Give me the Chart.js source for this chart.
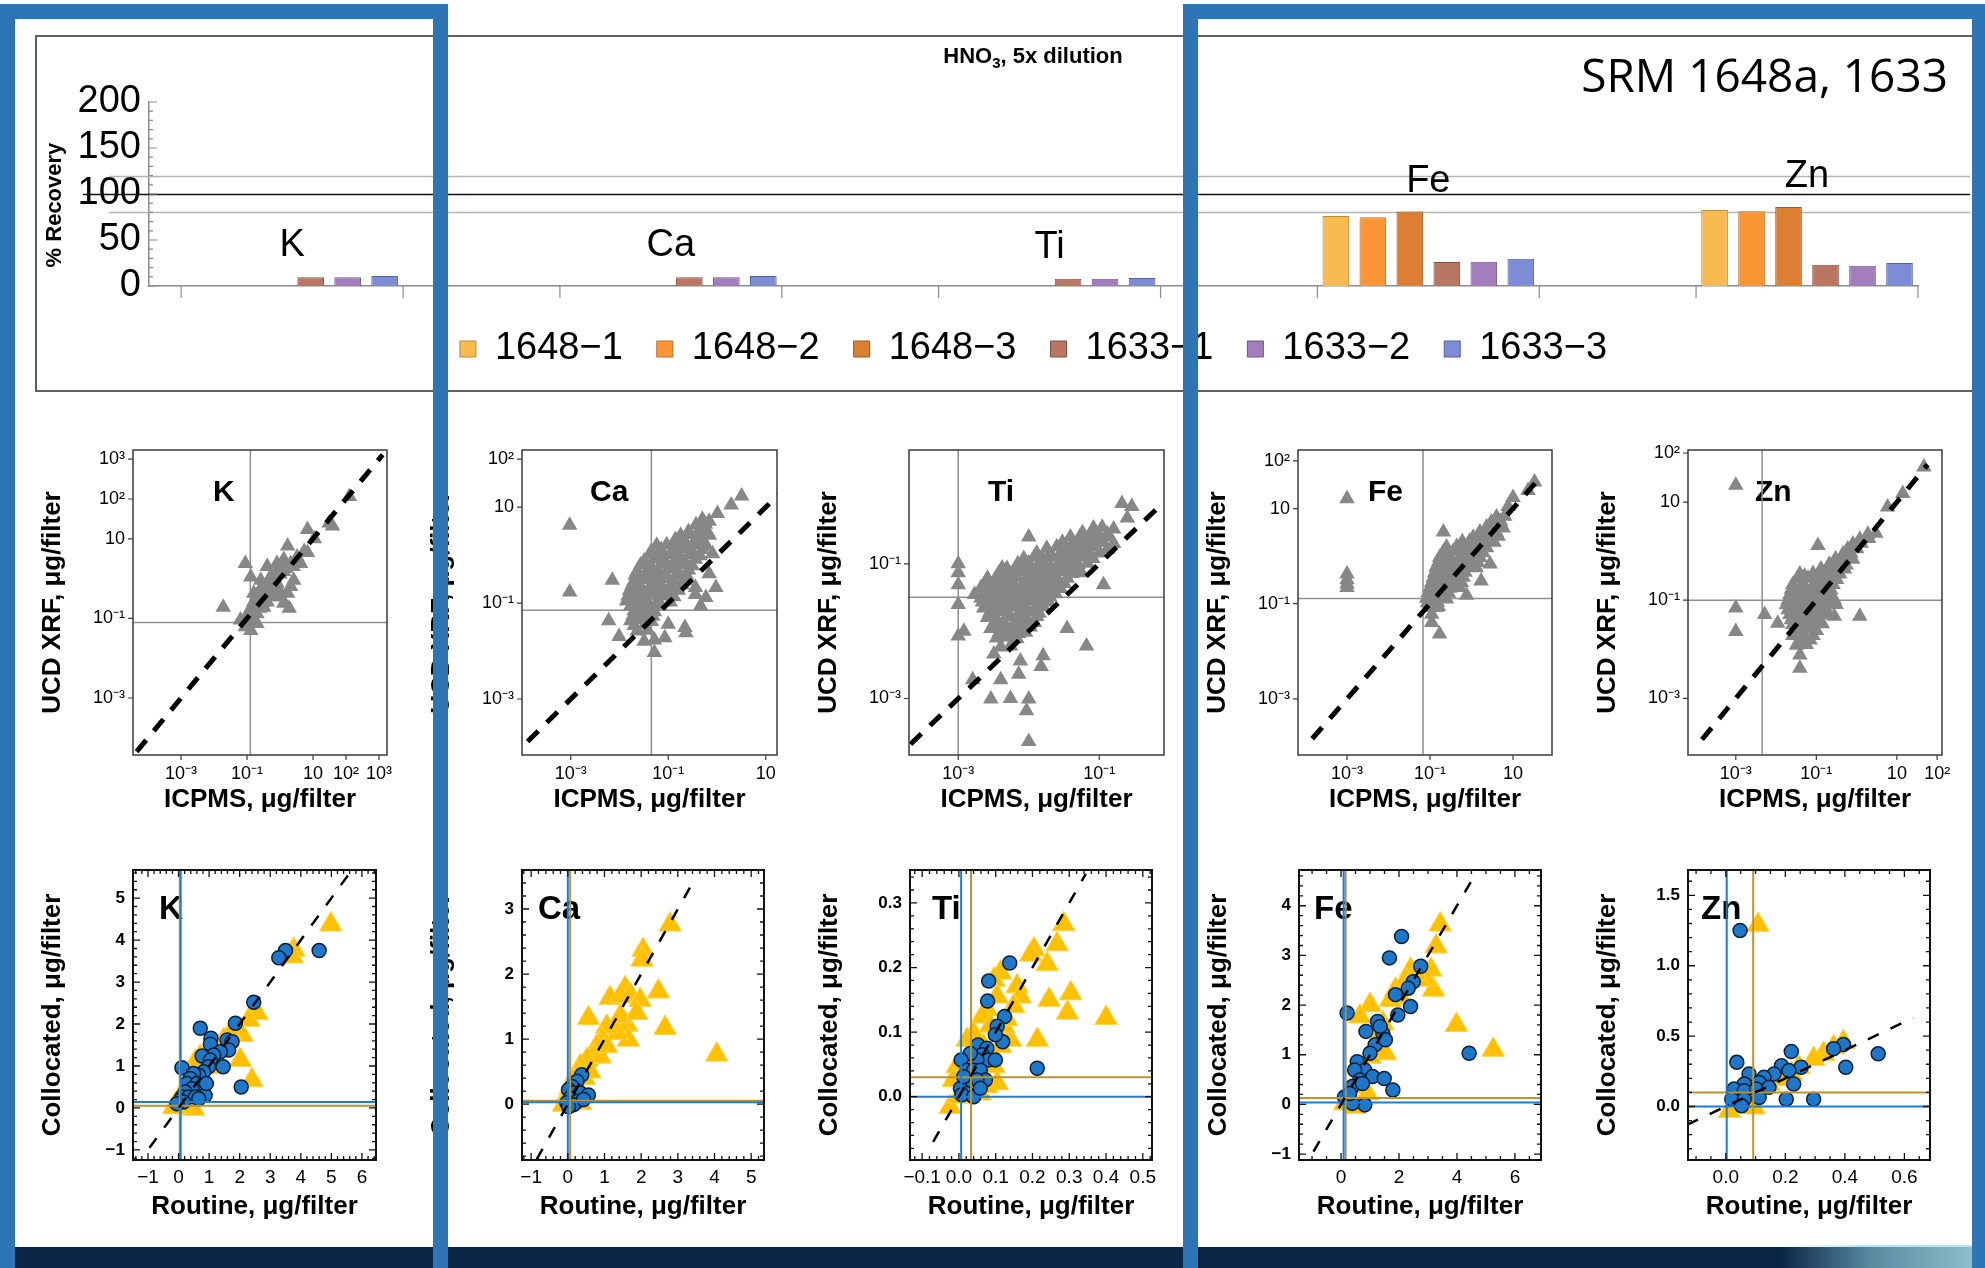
<!DOCTYPE html>
<html lang="en">
<head>
<meta charset="utf-8">
<title>SRM recovery and XRF comparisons</title>
<script src="https://cdn.jsdelivr.net/npm/chart.js@4.4.1/dist/chart.umd.min.js"></script>
<style>
  html, body { margin: 0; padding: 0; background: #fff; }
  #stage { position: relative; width: 1985px; height: 1268px; overflow: hidden; background: #fff; }
  #stage canvas { position: absolute; }
  #recoveryBox { position: absolute; left: 35px; top: 35px; width: 1960px; height: 353px;
    border-top: 2px solid #5f5f5f; border-left: 2px solid #5f5f5f; border-bottom: 2px solid #5f5f5f; }
  #acid { position: absolute; left: 1033px; top: 45px; transform: translateX(-50%); z-index: 3;
    font: bold 22px "Liberation Sans", Arial, sans-serif; line-height: 22px; white-space: nowrap; }
  #acid sub { font-size: 15px; line-height: 0; }
  #srm { position: absolute; right: 37px; top: 51px; z-index: 3;
    font: 46px "Open Sans", "Noto Sans", sans-serif; line-height: 46px; white-space: nowrap; }
  #footer { position: absolute; left: 0; top: 1247px; width: 1985px; height: 21px; background: #0b2545; z-index: 5; }
  #footerArt { position: absolute; left: 1780px; top: 1245px; width: 205px; height: 23px; z-index: 6;
    background: linear-gradient(90deg, rgba(120,195,215,0) 0%, rgba(140,208,222,0.6) 45%, rgba(170,224,234,0.85) 100%); }
  .band { position: absolute; background: #2e75b6; z-index: 10; }
</style>
</head>
<body>
<div id="stage">
  <div id="recoveryBox"></div>
  <div id="acid">HNO<sub>3</sub>, 5x dilution</div>
  <div id="srm">SRM 1648a, 1633</div>
  <div id="footer"></div>
  <div id="footerArt"></div>
  <div class="band" style="left:0;top:4px;width:15px;height:1264px"></div>
  <div class="band" style="left:0;top:4px;width:448px;height:15px"></div>
  <div class="band" style="left:433px;top:4px;width:15px;height:1264px"></div>
  <div class="band" style="left:1183px;top:4px;width:15px;height:1264px"></div>
  <div class="band" style="left:1183px;top:4px;width:802px;height:15px"></div>
  <div class="band" style="left:1972px;top:4px;width:13px;height:1264px"></div>
</div>
<script>
// ---- % recovery of the SRM digests ----
const elements = ['K', 'Ca', 'Ti', 'Fe', 'Zn'];
const runLabels = ['1648\u22121', '1648\u22122', '1648\u22123', '1633\u22121', '1633\u22122', '1633\u22123'];
const rec1648_1 = [null, null, null, 76, 82.6];
const rec1648_2 = [null, null, null, 74.6, 81.2];
const rec1648_3 = [null, null, null, 81, 85.9];
const rec1633_1 = [9.4, 9.4, 8.0, 26, 23.2];
const rec1633_2 = [9.4, 9.4, 8.0, 26.4, 22.1];
const rec1633_3 = [10.9, 10.9, 8.7, 29.7, 25];
const recoveryBands = [80, 100, 120];

// ---- UCD XRF vs ICPMS, ug/filter: [icpms, xrf] ----
const kLog = [[126,115],[31,25],[39,21],[6.8,17],[11,10],[1.7,6.6],[5.4,4.8],[3.3,3.5],[2.1,2.4],[1.3,1.5],
  [0.41,2.0],[0.089,2.4],[0.13,1.1],[0.26,0.91],[0.51,1.1],[0.81,0.76],[0.65,0.51],[0.41,0.43],[0.26,0.35],
  [0.16,0.26],[0.32,0.19],[0.2,0.13],[0.1,0.11],[0.063,0.091],[0.089,0.062],[0.13,0.05],[0.019,0.19],[1.7,0.43],
  [1.9,0.18],[1.3,0.24],[1.05,0.35],[2.1,0.63],[2.6,0.91],[4.2,2.4],[6.8,4.5],[0.81,1.35],[0.51,0.63],[0.26,0.56],
  [0.16,0.43],[0.81,2.4],[1.3,3.0],[0.41,0.26],[0.2,0.074],[0.16,0.14],
  [0.2,0.3],[0.3,0.25],[0.5,0.8],[0.7,1.2],[1.0,1.3],[1.5,1.8],[0.35,0.6],[0.12,0.16],[0.14,0.09],[0.25,0.18],
  [0.9,0.55],[2.5,2.0],[3.5,3.0],[0.6,0.35],[0.45,0.7],[0.18,0.2]];
const caLog = [[3.2,17],[1.95,11],[1.02,7.4],[0.00095,4.2],[0.00095,0.17],[0.0071,0.30],[0.006,0.043],[0.0098,0.020],
  [0.052,0.0093],[0.085,0.019],[0.22,0.031],[0.23,0.024],[0.1,0.036],[0.81,1.07],[0.69,0.41],[0.95,0.21],[0.59,0.13],
  [0.36,0.15],[0.46,0.087],[0.36,0.21],
  [0.50,5.6],[0.69,5.1],[0.26,3.1],[0.43,3.4],[0.59,3.2],[0.14,2.1],[0.22,1.9],[0.36,2.1],[0.54,1.9],
  [0.045,1.2],[0.072,1.3],[0.12,1.2],[0.19,1.35],[0.31,1.2],[0.50,1.3],
  [0.032,0.75],[0.052,0.82],[0.085,0.76],[0.14,0.80],[0.22,0.74],[0.36,0.82],
  [0.023,0.46],[0.038,0.50],[0.062,0.47],[0.1,0.51],[0.16,0.46],[0.26,0.49],
  [0.020,0.29],[0.030,0.31],[0.049,0.28],[0.079,0.32],[0.13,0.29],[0.22,0.30],
  [0.016,0.18],[0.023,0.19],[0.038,0.17],[0.062,0.19],[0.1,0.17],[0.16,0.185],
  [0.014,0.11],[0.023,0.115],[0.038,0.105],[0.062,0.115],[0.11,0.105],
  [0.020,0.069],[0.032,0.072],[0.052,0.066],[0.017,0.043],[0.028,0.045],[0.045,0.041],
  [0.023,0.026],[0.038,0.027],[0.032,0.016],[0.052,0.017],
  [0.37,4.3],[0.58,4.4],[0.18,2.6],[0.28,2.7],[0.45,2.5],[0.7,2.6],
  [0.058,1.6],[0.093,1.65],[0.15,1.55],[0.24,1.6],[0.39,1.65],[0.6,1.55],
  [0.041,1.0],[0.066,0.97],[0.11,1.03],[0.17,0.98],[0.28,1.02],[0.45,0.97],
  [0.027,0.62],[0.044,0.6],[0.072,0.64],[0.12,0.61],[0.19,0.63],[0.31,0.6],
  [0.021,0.38],[0.034,0.39],[0.055,0.37],[0.09,0.39],[0.15,0.38],[0.24,0.37],
  [0.018,0.235],[0.026,0.24],[0.043,0.23],[0.07,0.24],[0.11,0.23],[0.19,0.24],
  [0.015,0.14],[0.02,0.145],[0.03,0.135],[0.05,0.145],[0.08,0.14],[0.13,0.135],
  [0.017,0.088],[0.026,0.09],[0.041,0.085],[0.066,0.09],[0.019,0.055],[0.03,0.057],[0.048,0.053],[0.02,0.034],[0.033,0.035]];
const tiLog = [[0.21,0.79],[0.29,0.71],[0.25,0.48],[0.01,0.25],[0.001,0.10],[0.001,0.074],[0.001,0.049],[0.001,0.025],
  [0.001,0.0085],[0.115,0.049],[0.066,0.006],[0.035,0.011],[0.01,0.00023],[0.0029,0.00098],[0.0055,0.001],[0.01,0.00098],
  [0.0093,0.00066],[0.0016,0.0019],[0.004,0.0019],[0.0072,0.0023],[0.016,0.0043],[0.015,0.003],[0.0076,0.0036],
  [0.0032,0.0046],[0.0012,0.01],[0.0017,0.035],[0.0042,0.087],
  [0.083,0.34],[0.11,0.35],[0.16,0.33],[0.039,0.25],[0.054,0.26],[0.074,0.24],[0.10,0.26],[0.14,0.25],
  [0.018,0.17],[0.025,0.18],[0.035,0.165],[0.048,0.175],[0.066,0.17],[0.091,0.18],[0.13,0.165],
  [0.0085,0.12],[0.012,0.125],[0.016,0.115],[0.022,0.125],[0.031,0.12],[0.043,0.115],[0.059,0.125],[0.081,0.12],
  [0.0049,0.085],[0.0068,0.09],[0.0093,0.084],[0.013,0.089],[0.018,0.086],[0.025,0.09],[0.035,0.084],[0.048,0.088],
  [0.0026,0.061],[0.0035,0.064],[0.0049,0.06],[0.0068,0.063],[0.0093,0.061],[0.013,0.064],[0.018,0.06],[0.025,0.063],[0.035,0.061],
  [0.0021,0.044],[0.0029,0.046],[0.004,0.043],[0.0055,0.045],[0.0076,0.043],[0.0105,0.046],[0.014,0.044],[0.02,0.045],[0.028,0.043],
  [0.0021,0.031],[0.0029,0.033],[0.004,0.032],[0.0055,0.031],[0.0076,0.033],[0.0105,0.031],[0.014,0.033],[0.02,0.032],
  [0.0023,0.022],[0.0032,0.023],[0.0044,0.021],[0.0062,0.023],[0.0085,0.022],[0.012,0.021],[0.016,0.023],
  [0.0026,0.016],[0.0035,0.015],[0.0049,0.0165],[0.0068,0.0155],[0.0093,0.016],[0.013,0.0165],
  [0.0029,0.011],[0.004,0.0115],[0.0055,0.0105],[0.0076,0.011],[0.0105,0.0115],
  [0.0035,0.0079],[0.0049,0.0082],[0.0068,0.0077],[0.004,0.0058],[0.0055,0.006],
  [0.058,0.29],[0.078,0.3],[0.13,0.28],
  [0.03,0.21],[0.042,0.2],[0.058,0.215],[0.08,0.2],[0.11,0.21],[0.16,0.2],
  [0.013,0.145],[0.02,0.14],[0.029,0.15],[0.04,0.14],[0.055,0.15],[0.075,0.14],[0.1,0.145],
  [0.007,0.1],[0.01,0.104],[0.014,0.097],[0.019,0.103],[0.026,0.099],[0.037,0.104],[0.05,0.098],[0.068,0.102],
  [0.0038,0.074],[0.0058,0.071],[0.008,0.076],[0.011,0.072],[0.015,0.075],[0.021,0.071],[0.03,0.076],[0.041,0.072],[0.056,0.074],
  [0.0024,0.052],[0.0032,0.054],[0.0044,0.05],[0.006,0.053],[0.0085,0.051],[0.012,0.054],[0.016,0.05],[0.024,0.053],[0.032,0.051],
  [0.0025,0.037],[0.0034,0.038],[0.0047,0.036],[0.0065,0.038],[0.009,0.036],[0.012,0.038],[0.017,0.037],[0.024,0.036],
  [0.0022,0.027],[0.003,0.026],[0.0041,0.028],[0.0058,0.026],[0.008,0.027],[0.011,0.028],[0.015,0.026],[0.019,0.027],
  [0.0028,0.019],[0.0038,0.0195],[0.0052,0.0185],[0.0072,0.019],[0.01,0.0195],[0.014,0.0185],
  [0.0032,0.013],[0.0045,0.0135],[0.0062,0.0125],[0.0085,0.013],[0.012,0.0135],
  [0.0038,0.0095],[0.0052,0.0098],[0.0072,0.0092],[0.009,0.0096]];
const feLog = [[0.001,16],[0.001,0.42],[0.001,0.32],[0.001,0.26],[0.001,0.22],[23,24],[33,36],[10,17],[7.6,11],
  [0.21,3.2],[2.8,0.68],[1.7,0.3],[0.76,0.15],[0.17,0.023],[0.11,0.04],[0.11,0.06],[0.14,0.083],
  [4.0,6.6],[6.3,6.9],[2.3,4.1],[3.6,4.3],[5.8,3.9],[1.1,2.5],[1.7,2.6],[2.8,2.4],[4.4,2.6],
  [0.25,1.55],[0.44,1.6],[0.76,1.5],[1.3,1.6],[2.3,1.5],[0.17,0.93],[0.30,0.97],[0.52,0.9],[0.91,0.95],[1.6,0.92],
  [0.14,0.58],[0.25,0.6],[0.44,0.56],[0.76,0.59],[1.3,0.57],[0.12,0.35],[0.21,0.37],[0.36,0.34],[0.63,0.36],
  [0.1,0.22],[0.17,0.23],[0.30,0.21],[0.52,0.22],[0.083,0.13],[0.14,0.135],[0.25,0.125],[0.091,0.083],[0.16,0.086],
  [3.0,5.2],[5.0,5.4],[1.6,3.2],[2.5,3.3],[4.0,3.1],[0.6,2.0],[0.9,2.05],[1.4,1.95],[2.2,2.05],[3.5,1.95],
  [0.21,1.2],[0.36,1.25],[0.62,1.15],[1.1,1.22],[1.9,1.18],[0.16,0.74],[0.27,0.76],[0.48,0.72],[0.83,0.75],[1.4,0.73],
  [0.13,0.45],[0.23,0.46],[0.4,0.44],[0.7,0.46],[0.11,0.28],[0.19,0.29],[0.33,0.27],[0.57,0.28],
  [0.09,0.17],[0.16,0.175],[0.28,0.165],[0.087,0.105],[0.15,0.108]];
const znLog = [[0.001,22],[47,52],[14,15],[5.9,7.9],[0.11,1.3],[0.001,0.069],[0.001,0.023],[0.0052,0.051],[0.011,0.034],
  [0.039,0.0041],[1.2,0.047],[0.28,0.047],[0.051,0.31],
  [1.9,2.2],[3.0,2.3],[0.81,1.4],[1.3,1.45],[0.46,0.87],[0.72,0.9],[0.21,0.54],[0.34,0.56],[0.55,0.52],
  [0.039,0.34],[0.083,0.35],[0.14,0.33],[0.23,0.35],[0.38,0.34],[0.026,0.21],[0.047,0.22],[0.083,0.2],[0.14,0.22],[0.26,0.21],
  [0.022,0.13],[0.039,0.135],[0.069,0.125],[0.12,0.135],[0.21,0.13],
  [0.018,0.081],[0.032,0.084],[0.056,0.079],[0.1,0.083],[0.18,0.08],[0.31,0.082],
  [0.022,0.051],[0.039,0.053],[0.069,0.05],[0.12,0.052],[0.21,0.05],[0.026,0.032],[0.047,0.033],[0.083,0.031],[0.14,0.033],
  [0.026,0.019],[0.047,0.02],[0.083,0.019],[0.032,0.012],[0.056,0.0125],[0.039,0.0076],
  [1.2,1.75],[2.0,1.8],[0.6,1.1],[1.0,1.12],[0.3,0.7],[0.5,0.72],[0.8,0.68],
  [0.13,0.43],[0.22,0.44],[0.33,0.42],[0.5,0.43],[0.033,0.27],[0.062,0.28],[0.11,0.26],[0.19,0.275],[0.32,0.265],
  [0.024,0.165],[0.043,0.17],[0.075,0.16],[0.13,0.168],[0.23,0.162],
  [0.02,0.1],[0.035,0.104],[0.062,0.098],[0.11,0.103],[0.19,0.099],[0.28,0.102],
  [0.02,0.064],[0.03,0.066],[0.052,0.062],[0.09,0.065],[0.16,0.063],
  [0.024,0.04],[0.04,0.041],[0.07,0.039],[0.12,0.041],[0.035,0.025],[0.062,0.026],[0.1,0.024],[0.04,0.015],[0.07,0.0155]];

const logPoints = [kLog, caLog, tiLog, feLog, znLog];
const logXRange = [[3.5e-5, 1750], [1e-4, 17], [2.0e-4, 0.83], [6.6e-5, 87], [6.5e-5, 132]];
const logYRange = [[3.7e-5, 1700], [6.8e-5, 155], [1.45e-4, 4.9], [6.6e-5, 170], [7.2e-5, 115]];
const logXTicks = [[1e-3, 0.1, 10, 100, 1000], [1e-3, 0.1, 10], [1e-3, 0.1], [1e-3, 0.1, 10], [1e-3, 0.1, 10, 100]];
const logYTicks = [[1e-3, 0.1, 10, 100, 1000], [1e-3, 0.1, 10, 100], [1e-3, 0.1], [1e-3, 0.1, 10, 100], [1e-3, 0.1, 10, 100]];
const logVLine = [0.126, 0.045, 0.001, 0.068, 0.0045];
const logHLine = [0.079, 0.071, 0.032, 0.128, 0.1];
const logOneToOne = [[4.5e-5, 1290], [1.3e-4, 18], [2.1e-4, 0.76], [1.45e-4, 52], [1.45e-4, 58]];

// ---- collocated vs routine, ug/filter: [routine, collocated] ----
const kCircles = [[4.6,3.75],[3.5,3.75],[3.28,3.58],[2.46,2.52],[1.86,2.02],[2.05,0.5],[0.71,1.9],[1.06,1.66],[1.04,1.52],
  [1.59,1.62],[1.75,1.58],[1.64,1.38],[1.37,1.34],[1.15,1.26],[0.77,1.24],[0.11,0.96],[1.46,0.98],[1.04,1.14],[0.98,0.98],
  [0.82,0.86],[0.66,0.78],[0.49,0.82],[0.38,0.70],[0.27,0.58],[0.6,0.58],[0.71,0.46],[0.44,0.46],[0.22,0.38],[0.11,0.26],
  [0.33,0.26],[0.55,0.26],[0.87,0.30],[0.05,0.18],[0.16,0.14],[-0.05,0.10],[0.66,0.22],[0.91,0.58]];
const kTriangles = [[4.98,4.37],[3.77,3.77],[3.72,3.61],[2.57,2.26],[2.3,2.1],[2.08,1.74],[2.02,1.14],[2.4,0.66],[1.7,1.78],
  [1.48,1.62],[1.31,1.46],[0.71,1.22],[0.55,1.10],[0.93,0.98],[1.26,0.98],[0.71,0.82],[0.49,0.66],[0.27,0.46],[0.11,0.34],
  [-0.05,0.10],[0.27,0.02],[0.49,-0.02],[0.05,0.02],[-0.16,0.02]];
const caCircles = [[0.38,0.45],[0.25,0.35],[0.11,0.27],[0.02,0.22],[0.15,0.17],[0.34,0.17],[0.56,0.14],[0.06,0.09],[0.25,0.04],
  [-0.03,0.02],[0.15,-0.01],[0.43,0.07],[0.02,-0.04]];
const caTriangles = [[2.79,2.76],[2.05,2.37],[2.02,2.22],[2.47,1.73],[2.65,1.17],[4.06,0.76],[1.56,1.78],[1.7,1.68],[1.15,1.63],
  [0.56,1.32],[1.97,1.6],[1.61,1.22],[1.65,0.99],[1.34,1.09],[1.06,1.19],[0.93,0.99],[0.79,0.89],[0.7,0.73],[0.52,0.68],
  [0.34,0.58],[0.25,0.48],[0.15,0.37],[0.06,0.25],[-0.03,0.12],[0.15,0.07],[0.34,0.02],[-0.12,-0.01],[0.88,0.73],[1.06,0.89],
  [1.43,1.35],[1.88,1.4],[1.43,1.66],[0.45,0.40],[0.6,0.5]];
const tiCircles = [[0.138,0.207],[0.081,0.179],[0.078,0.148],[0.124,0.124],[0.104,0.109],[0.119,0.085],[0.099,0.096],
  [0.213,0.044],[0.052,0.080],[0.076,0.075],[0.063,0.065],[0.081,0.057],[0.099,0.057],[0.049,0.057],[0.031,0.067],
  [0.006,0.057],[0.022,0.041],[0.04,0.041],[0.058,0.041],[0.072,0.026],[0.049,0.026],[0.017,0.021],[0.004,0.013],
  [0.022,0.005],[0.008,0.003],[0.04,0.0],[0.013,0.031],[0.058,0.013]];
const tiTriangles = [[0.285,0.267],[0.267,0.236],[0.24,0.205],[0.204,0.228],[0.195,0.22],[0.245,0.15],[0.304,0.16],
  [0.295,0.13],[0.4,0.122],[0.213,0.088],[0.158,0.171],[0.167,0.155],[0.149,0.14],[0.113,0.192],[0.095,0.181],[0.104,0.155],
  [0.076,0.135],[0.063,0.124],[0.131,0.093],[0.14,0.088],[0.113,0.078],[0.04,0.098],[0.022,0.088],[0.095,0.047],[0.104,0.021],
  [0.076,0.016],[-0.005,0.047],[-0.015,0.026],[-0.024,-0.016],[0.0,0.0],[0.031,0.005],[0.058,0.005],[0.122,0.109],
  [0.067,0.078],[0.13,0.12],[0.085,0.11],[0.05,0.06]];
const feCircles = [[2.09,3.38],[1.67,2.95],[0.21,1.84],[4.42,1.03],[1.79,0.29],[0.82,-0.01],[2.75,2.78],[2.49,2.47],[2.32,2.34],
  [1.88,2.21],[2.4,1.97],[1.96,1.8],[1.26,1.67],[0.86,1.47],[1.44,1.43],[1.18,1.2],[1.0,1.03],[1.53,1.3],[0.56,0.86],
  [0.82,0.69],[1.09,0.56],[0.47,0.69],[0.65,0.49],[0.39,0.36],[0.12,0.15],[0.39,0.02],[1.49,0.52],[1.35,1.57],[0.74,0.42],[0.3,0.22]];
const feTriangles = [[3.42,3.62],[3.28,3.18],[3.1,2.71],[3.19,2.31],[2.93,2.51],[3.98,1.6],[5.25,1.1],[2.4,2.71],[1.88,2.31],
  [1.7,2.1],[1.0,2.0],[0.65,1.77],[1.44,1.63],[1.26,1.3],[1.53,1.03],[1.0,0.96],[0.74,0.63],[0.47,0.36],[0.3,0.15],[0.12,0.02],
  [0.47,-0.05],[2.23,2.51],[2.58,2.64],[0.91,0.22],[2.05,2.17]];
const znCircles = [[0.048,1.25],[0.037,0.314],[0.22,0.39],[0.395,0.44],[0.362,0.41],[0.512,0.374],[0.403,0.279],[0.295,0.052],
  [0.203,0.052],[0.078,0.231],[0.187,0.29],[0.253,0.279],[0.212,0.255],[0.162,0.231],[0.128,0.207],[0.112,0.171],[0.062,0.16],
  [0.028,0.124],[0.062,0.112],[0.103,0.124],[0.02,0.052],[0.062,0.052],[0.112,0.064],[0.053,0.005],[0.145,0.136],[0.228,0.16]];
const znTriangles = [[0.108,1.29],[0.395,0.457],[0.328,0.374],[0.295,0.338],[0.245,0.279],[0.22,0.231],[0.178,0.195],
  [0.145,0.16],[0.095,0.124],[0.062,0.088],[0.028,0.017],[0.012,-0.031],[0.095,-0.007],[0.362,0.421],[0.045,0.052]];

const linCircles = [kCircles, caCircles, tiCircles, feCircles, znCircles];
const linTriangles = [kTriangles, caTriangles, tiTriangles, feTriangles, znTriangles];
const linXRange = [[-1.49, 6.46], [-1.25, 5.35], [-0.133, 0.525], [-1.45, 6.9], [-0.127, 0.686]];
const linYRange = [[-1.24, 5.67], [-0.86, 3.6], [-0.098, 0.351], [-1.12, 4.72], [-0.38, 1.68]];
const linXTicks = [[-1, 0, 1, 2, 3, 4, 5, 6], [-1, 0, 1, 2, 3, 4, 5], [-0.1, 0, 0.1, 0.2, 0.3, 0.4, 0.5], [0, 2, 4, 6], [0, 0.2, 0.4, 0.6]];
const linYTicks = [[-1, 0, 1, 2, 3, 4, 5], [0, 1, 2, 3], [0, 0.1, 0.2, 0.3], [-1, 0, 1, 2, 3, 4], [0, 0.5, 1, 1.5]];
const linXMinorStep = [0.2, 0.2, 0.02, 0.5, 0.05];
const linYMinorStep = [0.2, 0.2, 0.02, 0.2, 0.1];
const linDecimals = [0, 0, 1, 0, 1];
const blueV = [0.07, 0.0, 0.006, 0.09, 0.003];
const goldV = [0.04, 0.064, 0.033, 0.16, 0.092];
const blueH = [0.14, 0.03, 0.0, 0.04, 0.0];
const goldH = [0.05, 0.05, 0.03, 0.13, 0.10];
const linOneToOne = [[-0.95, 5.7], [-0.85, 3.4], [-0.07, 0.345], [-0.95, 4.6], [-0.13, 0.63]];

// ---- layout ----
const runColors = ['#f9bb4f', '#fc9536', '#dc7f33', '#b97663', '#a47dbd', '#7d8cd6'];
const runEdges = ['#b98a3a', '#b8702c', '#9c5c28', '#7f5247', '#6f5486', '#56619a'];
const logFrames = [{ l: 133, r: 387 }, { l: 522, r: 777 }, { l: 909, r: 1164 }, { l: 1298, r: 1552 }, { l: 1688, r: 1942 }];
const linFrames = [{ l: 133, r: 376 }, { l: 522, r: 764 }, { l: 910, r: 1152 }, { l: 1299, r: 1541 }, { l: 1688, r: 1930 }];
const logLabelDx = [80, 68, 79, 70, 67];
const linLabelDx = [26, 16, 22, 15, 13];
const PAD = { l: 110, t: 30, r: 30, b: 85 };
const groupPct = 0.586;
const BLUE = '#1f7ad2';
const GOLD = '#b8952f';
const FONT = '"Liberation Sans", Arial, Helvetica, sans-serif';

Chart.defaults.font.family = FONT;
Chart.defaults.color = '#000';

const stage = document.getElementById('stage');
function addCanvas(left, top, width, height) {
  const c = document.createElement('canvas');
  c.width = width; c.height = height;
  c.style.left = left + 'px'; c.style.top = top + 'px';
  c.style.width = width + 'px'; c.style.height = height + 'px';
  stage.appendChild(c);
  return c;
}

const recoverySeries = [rec1648_1, rec1648_2, rec1648_3, rec1633_1, rec1633_2, rec1633_3];

// guide lines at 80/100/120 %, axis tick marks, axis caption
const recoveryAxes = {
  id: 'recoveryAxes',
  beforeDatasetsDraw(chart) {
    const { ctx, chartArea: a, scales: { x, y } } = chart;
    ctx.save();
    recoveryBands.forEach(v => {
      const py = Math.round(y.getPixelForValue(v)) + 0.5;
      ctx.beginPath();
      ctx.strokeStyle = v === 100 ? '#111' : '#b5b5b5';
      ctx.lineWidth = 1.5;
      ctx.moveTo(v === 100 ? 46 : 72, py);
      ctx.lineTo(chart.width, py);
      ctx.stroke();
    });
    ctx.strokeStyle = '#8c8c8c';
    ctx.lineWidth = 1.2;
    ctx.beginPath();
    for (let v = 0; v <= 200; v += 10) {
      const py = y.getPixelForValue(v);
      ctx.moveTo(a.left, py);
      ctx.lineTo(a.left + (v % 50 === 0 ? 8 : 4), py);
    }
    const half = (x.getPixelForValue(1) - x.getPixelForValue(0)) * groupPct / 2;
    elements.forEach((_, i) => {
      const px = x.getPixelForValue(i);
      [px - half, px + half].forEach(t => { ctx.moveTo(t, a.bottom); ctx.lineTo(t, a.bottom + 12); });
    });
    ctx.stroke();

    // caption sits a little below the middle of the axis
    ctx.translate(18, y.getPixelForValue(88));
    ctx.rotate(-Math.PI / 2);
    ctx.font = 'bold 22px ' + FONT;
    ctx.fillStyle = '#000';
    ctx.textAlign = 'center';
    ctx.textBaseline = 'middle';
    ctx.fillText('% Recovery', 0, 0);
    ctx.restore();
  }
};

// element name above each group of bars
const groupLabels = {
  id: 'groupLabels',
  afterDatasetsDraw(chart) {
    const { ctx, scales: { x, y } } = chart;
    ctx.save();
    ctx.font = '38px ' + FONT;
    ctx.fillStyle = '#000';
    ctx.textAlign = 'center';
    ctx.textBaseline = 'middle';
    elements.forEach((name, i) => {
      const top = Math.max(...recoverySeries.map(s => s[i] ?? 0));
      ctx.fillText(name, x.getPixelForValue(i), y.getPixelForValue(top) - 30);
    });
    ctx.restore();
  }
};

new Chart(addCanvas(37, 37, 1933, 353), {
  type: 'bar',
  data: {
    datasets: recoverySeries.map((s, k) => ({
      label: runLabels[k],
      data: s.map((v, i) => ({ x: i, y: v })),
      backgroundColor: runColors[k],
      borderColor: runEdges[k],
      borderWidth: 1,
      categoryPercentage: groupPct,
      barPercentage: 0.72
    }))
  },
  options: {
    responsive: false,
    animation: false,
    devicePixelRatio: 1,
    layout: { padding: { left: 0, top: 65, right: 52, bottom: 12 } },
    scales: {
      x: {
        type: 'linear', offset: false, min: -0.378, max: 4.293,
        // one tick per element group keeps the bar ruler at the group spacing
        afterBuildTicks: s => { s.ticks = elements.map((_, i) => ({ value: i })); },
        ticks: { display: false },
        grid: { display: false, drawTicks: false },
        border: { color: '#8c8c8c', width: 1.5 },
        afterFit: s => { s.height = 10; }
      },
      y: {
        min: 0, max: 200,
        ticks: { stepSize: 50, autoSkip: false, padding: 8, font: { size: 38 }, color: '#000' },
        grid: { display: false, drawTicks: false },
        border: { color: '#8c8c8c', width: 1.5 },
        afterFit: s => { s.width = 112; }
      }
    },
    plugins: {
      legend: {
        position: 'bottom', fullSize: false,
        labels: { boxWidth: 16, boxHeight: 16, padding: 34, font: { size: 38 }, color: '#000' }
      },
      tooltip: { enabled: false }
    }
  },
  plugins: [recoveryAxes, groupLabels]
});

// ---- scatter panels ----
const sup = { '-': '\u207b', '0': '\u2070', '1': '\u00b9', '2': '\u00b2', '3': '\u00b3', '4': '\u2074', '5': '\u2075' };
function powerOfTen(v) {
  const e = Math.round(Math.log10(v));
  if (e === 1) return '10';
  if (e === 0) return '1';
  return '10' + String(e).split('').map(c => sup[c]).join('');
}
function minorTicks(min, max, step) {
  const out = [];
  for (let v = Math.ceil(min / step) * step; v <= max + 1e-9; v += step) out.push(+v.toFixed(6));
  return out;
}

// plot frame with major/minor tick marks
const frameTicks = {
  id: 'frameTicks',
  afterDatasetsDraw(chart, args, o) {
    const { ctx, chartArea: a, scales: { x, y } } = chart;
    const seg = (x1, y1, x2, y2) => { ctx.moveTo(x1, y1); ctx.lineTo(x2, y2); };
    ctx.save();
    ctx.strokeStyle = o.color;
    ctx.lineWidth = o.lineWidth;
    ctx.strokeRect(a.left, a.top, a.right - a.left, a.bottom - a.top);
    ctx.lineWidth = o.tickWidth;
    ctx.beginPath();
    [[o.xMajor, o.major], [o.xMinor, o.minor]].forEach(([vals, len]) => vals.forEach(v => {
      const px = x.getPixelForValue(v);
      if (px < a.left + 1 || px > a.right - 1) return;
      if (o.inward) { seg(px, a.bottom, px, a.bottom - len); seg(px, a.top, px, a.top + len); }
      else seg(px, a.bottom, px, a.bottom + len);
    }));
    [[o.yMajor, o.major], [o.yMinor, o.minor]].forEach(([vals, len]) => vals.forEach(v => {
      const py = y.getPixelForValue(v);
      if (py < a.top + 1 || py > a.bottom - 1) return;
      if (o.inward) { seg(a.left, py, a.left + len, py); seg(a.right, py, a.right - len, py); }
      else seg(a.left, py, a.left - len, py);
    }));
    ctx.stroke();
    ctx.restore();
  }
};

const panelLabel = {
  id: 'panelLabel',
  beforeDatasetsDraw(chart, args, o) {
    const { ctx, chartArea: a } = chart;
    ctx.save();
    ctx.font = 'bold ' + o.size + 'px ' + FONT;
    ctx.fillStyle = '#000';
    ctx.textBaseline = 'middle';
    ctx.fillText(o.text, a.left + o.dx, a.top + o.dy);
    ctx.restore();
  }
};

function panel(frame, top, bottom, spec) {
  const w = frame.r - frame.l + PAD.l + PAD.r;
  const h = bottom - top + PAD.t + PAD.b;
  const axis = (a, isX) => ({
    type: a.type, min: a.min, max: a.max,
    afterBuildTicks: s => { s.ticks = a.ticks.map(v => ({ value: v })); },
    afterFit: s => { if (isX) s.height = PAD.b; else s.width = PAD.l; },
    grid: { display: false, drawTicks: false },
    border: { display: false },
    ticks: { autoSkip: false, maxRotation: 0, minRotation: 0, padding: a.pad, font: a.font, color: '#000', callback: a.format },
    title: {
      display: true, text: a.title, color: '#000', font: { size: 26, weight: 'bold' },
      padding: isX ? { top: 0, bottom: a.titlePad } : { top: a.titlePad, bottom: 0 }
    }
  });
  return new Chart(addCanvas(frame.l - PAD.l, top - PAD.t, w, h), {
    type: 'scatter',
    data: { datasets: spec.datasets },
    options: {
      responsive: false,
      animation: false,
      devicePixelRatio: 1,
      layout: { padding: { left: 0, top: PAD.t, right: PAD.r, bottom: 0 } },
      scales: { x: axis(spec.x, true), y: axis(spec.y, false) },
      plugins: { legend: { display: false }, tooltip: { enabled: false }, frameTicks: spec.frame, panelLabel: spec.label }
    },
    plugins: [frameTicks, panelLabel]
  });
}

const toXY = pts => pts.map(([x, y]) => ({ x, y }));
const segment = (pts, color, width, dash, order) => ({
  data: pts, showLine: true, pointRadius: 0, borderColor: color, borderWidth: width,
  borderDash: dash, borderCapStyle: 'butt', order, clip: 0
});

// XRF vs ICPMS, log-log
logPoints.forEach((pts, i) => {
  const [x0, x1] = logXRange[i];
  const [y0, y1] = logYRange[i];
  const [d0, d1] = logOneToOne[i];
  panel(logFrames[i], 450, 755, {
    datasets: [
      segment([{ x: d0, y: d0 }, { x: d1, y: d1 }], '#000', 5, [15, 12], 0),
      {
        data: toXY(pts), pointStyle: 'triangle', pointRadius: 9,
        pointBackgroundColor: '#878787', pointBorderWidth: 0, order: 1
      },
      segment([{ x: logVLine[i], y: y0 }, { x: logVLine[i], y: y1 }], '#8f8f8f', 1.5, [], 2),
      segment([{ x: x0, y: logHLine[i] }, { x: x1, y: logHLine[i] }], '#8f8f8f', 1.5, [], 2)
    ],
    x: { type: 'logarithmic', min: x0, max: x1, ticks: logXTicks[i], pad: 8, font: { size: 18 },
         format: powerOfTen, title: 'ICPMS, \u03bcg/filter', titlePad: 24.4 },
    y: { type: 'logarithmic', min: y0, max: y1, ticks: logYTicks[i], pad: 8, font: { size: 18 },
         format: powerOfTen, title: 'UCD XRF, \u03bcg/filter', titlePad: 14.4 },
    frame: { color: '#3a3a3a', lineWidth: 1.5, tickWidth: 1.2, inward: false, major: 5, minor: 0,
             xMajor: logXTicks[i], yMajor: logYTicks[i], xMinor: [], yMinor: [] },
    label: { text: elements[i], dx: logLabelDx[i], dy: 43, size: 30 }
  });
});

// collocated vs routine, linear
linCircles.forEach((circles, i) => {
  const [x0, x1] = linXRange[i];
  const [y0, y1] = linYRange[i];
  const [d0, d1] = linOneToOne[i];
  const dec = linDecimals[i];
  const fmt = v => (v < 0 ? '\u2212' : '') + Math.abs(v).toFixed(dec);
  panel(linFrames[i], 870, 1160, {
    datasets: [
      segment([{ x: d0, y: d0 }, { x: d1, y: d1 }], '#000', 2.5, [12, 13], 0),
      segment([{ x: blueV[i], y: y0 }, { x: blueV[i], y: y1 }], BLUE, 2, [], 1),
      segment([{ x: goldV[i], y: y0 }, { x: goldV[i], y: y1 }], GOLD, 2, [], 1),
      segment([{ x: x0, y: blueH[i] }, { x: x1, y: blueH[i] }], BLUE, 2, [], 1),
      segment([{ x: x0, y: goldH[i] }, { x: x1, y: goldH[i] }], GOLD, 2, [], 1),
      {
        data: toXY(circles), pointStyle: 'circle', pointRadius: 7,
        pointBackgroundColor: '#1f77c9', pointBorderColor: '#0c2036', pointBorderWidth: 1.5, order: 2
      },
      {
        data: toXY(linTriangles[i]), pointStyle: 'triangle', pointRadius: 13,
        pointBackgroundColor: '#ffc000', pointBorderColor: '#ffd54a', pointBorderWidth: 1, order: 3
      }
    ],
    x: { type: 'linear', min: x0, max: x1, ticks: linXTicks[i], pad: 6, font: { size: 19 },
         format: fmt, title: 'Routine, \u03bcg/filter', titlePad: 22.4 },
    y: { type: 'linear', min: y0, max: y1, ticks: linYTicks[i], pad: 8, font: { size: 17, weight: 'bold' },
         format: fmt, title: 'Collocated, \u03bcg/filter', titlePad: 14.4 },
    frame: { color: '#111', lineWidth: 2, tickWidth: 1.3, inward: true, major: 7, minor: 4,
             xMajor: linXTicks[i], yMajor: linYTicks[i],
             xMinor: minorTicks(x0, x1, linXMinorStep[i]), yMinor: minorTicks(y0, y1, linYMinorStep[i]) },
    label: { text: elements[i], dx: linLabelDx[i], dy: 40, size: 33 }
  });
});
</script>
</body>
</html>
